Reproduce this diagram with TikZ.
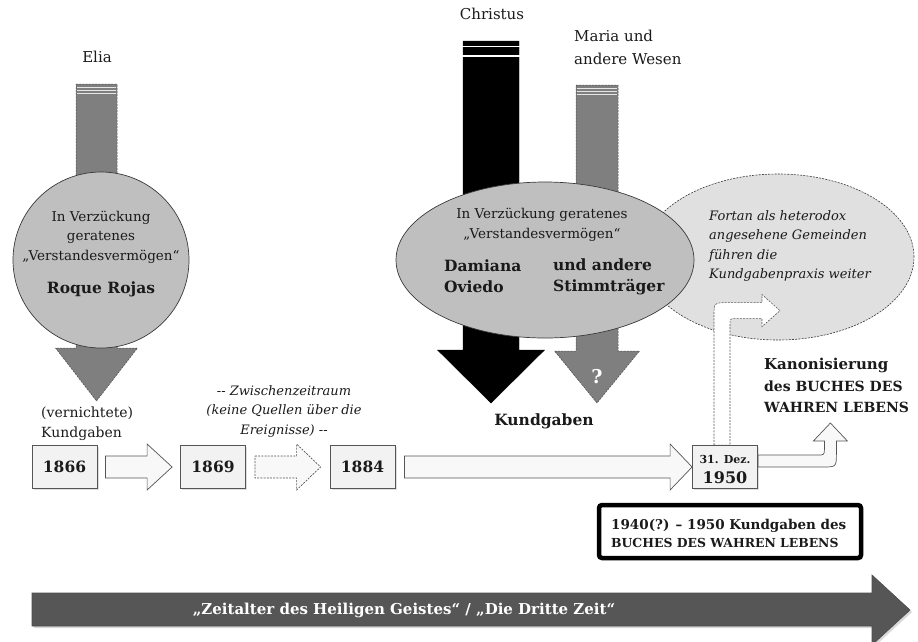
\documentclass[tikz,border=0pt]{standalone}
\usepackage{fontspec}
\setmainfont{DejaVu Serif}
\usetikzlibrary{shapes.geometric,shadows,calc}
\definecolor{txtc}{HTML}{1A1A1A}
\definecolor{boxfill}{HTML}{F2F2F2}
\definecolor{boxline}{HTML}{555555}
\definecolor{arrfill}{HTML}{F8F8F8}
\definecolor{circfill}{HTML}{BFBFBF}
\definecolor{circline}{HTML}{3A3A3A}
\definecolor{dashfill}{HTML}{E0E0E0}
\definecolor{arrgray}{HTML}{7F7F7F}
\definecolor{erafill}{HTML}{565656}
\pgfdeclarelayer{back}
\pgfdeclarelayer{mid}
\pgfsetlayers{back,mid,main}
\newcommand\downarr[7][]{\draw[#1] ({#2-#3},#5) -- ({#2+#3},#5) -- ({#2+#3},#6) -- ({#2+#4},#6) -- (#2,#7) -- ({#2-#4},#6) -- ({#2-#3},#6) -- cycle;}
\newcommand\harr[4][]{\draw[#1] let \p1=(#2), \p2=(#3) in
  (\x1,\y1+11pt) -- (\x2-#4pt,\y1+11pt) -- (\x2-#4pt,\y1+23pt) -- (\x2,\y1) -- (\x2-#4pt,\y1-23pt) -- (\x2-#4pt,\y1-11pt) -- (\x1,\y1-11pt) -- cycle;}
\tikzset{
  txt/.style={inner sep=0pt, text=txtc},
  norm/.style={txt, font=\fontsize{13.5}{19.5}\selectfont},
  big/.style={txt, font=\fontsize{15}{23}\selectfont},
  bld/.style={txt, font=\bfseries\fontsize{15.5}{21}\selectfont},
  itl/.style={txt, font=\itshape\fontsize{13}{19.5}\selectfont},
  yearbox/.style={draw=boxline, fill=boxfill, minimum width=65pt, minimum height=43pt, inner sep=0pt,
    line width=0.8pt, text=txtc, font=\bfseries\fontsize{15.5}{18}\selectfont,
    drop shadow={shadow xshift=1.5pt, shadow yshift=-1.5pt, opacity=0.25}},
  blockarr/.style={draw=boxline, fill=arrfill, line width=0.7pt},
  finedash/.style={dash pattern=on 2pt off 1.2pt},
  grayarr/.style={fill=arrgray, draw=arrgray!60!black, line width=0.5pt, finedash},
  blackarr/.style={fill=black, draw=black},
  circ/.style={circle, minimum size=176pt, inner sep=0pt, fill=circfill, draw=circline, line width=0.7pt},
  ell/.style={ellipse, minimum width=298pt, minimum height=156pt, inner sep=0pt, fill=circfill, draw=circline, line width=0.7pt},
  dashell/.style={ellipse, minimum width=272pt, minimum height=166pt, inner sep=0pt, fill=dashfill, draw=circline, line width=0.6pt, finedash},
}
\begin{document}
\begin{tikzpicture}[x=1pt,y=-1pt]
\useasboundingbox (0,0) rectangle (918,641);

\begin{pgfonlayer}{back}
  \node[dashell] (fort) at (778,257) {};
  % Elia arrow
  \downarr[grayarr]{96.5}{20.5}{41}{84}{348}{401}
  \foreach \yy in {87,90,93} \draw[white, line width=0.6pt, opacity=0.8] (77,\yy) -- (116,\yy);
  % Christus arrow
  \downarr[blackarr]{491}{28}{53.5}{41}{350}{403}
  \fill[white] (462,45.5) rectangle (520,47);
  \fill[white] (462,55) rectangle (520,56.5);
  % Maria arrow
  \downarr[grayarr]{597}{21}{42.5}{85}{351}{403}
  \foreach \yy in {88,91,94} \draw[white, line width=0.6pt, opacity=0.8] (577,\yy) -- (617,\yy);
  % circle and ellipse
  \node[circ] (rr) at (101,260) {};
  \node[ell] (dam) at (545,260) {};
  % era arrow
  \draw[fill=erafill, draw=black!70, line width=0.6pt,
        drop shadow={shadow xshift=2pt, shadow yshift=-2pt, opacity=0.3}]
    (32,593) -- (872,593) -- (872,575) -- (910,610) -- (872,645) -- (872,626) -- (32,626) -- cycle;
\end{pgfonlayer}

% year boxes
\node[yearbox] (y1866) at (64.5,467) {1866};
\node[yearbox] (y1869) at (213,467) {1869};
\node[yearbox] (y1884) at (362.5,467) {1884};
\node[yearbox] (y1950) at (725,467) {};
\node[txt, font=\bfseries\fontsize{11}{13}\selectfont] (dez) at (725,459) {31. Dez.};
\node[txt, font=\bfseries\fontsize{16}{18}\selectfont] (y50) at (725,478) {1950};

\begin{pgfonlayer}{mid}
  \harr[blockarr]{$(y1866.east)+(8,0)$}{$(y1869.west)+(-8,0)$}{25}
  \harr[blockarr, finedash]{$(y1869.east)+(9,0)$}{$(y1884.west)+(-9,0)$}{24}
  \harr[blockarr]{$(y1884.east)+(9,0)$}{y1950.west}{22}
  % bent arrow to Kanonisierung
  \begin{scope}[shift={(y1950.east)}]
    \draw[blockarr] (0,-12) -- (59.5,-12) .. controls (66.5,-12) .. (66.5,-19) -- (66.5,-26) -- (55.5,-26)
      -- (72.5,-44) -- (89.5,-26) -- (78.5,-26) -- (78.5,-14) .. controls (78.5,0) .. (64.5,0) -- (0,0) -- cycle;
  \end{scope}
  % dashed bent arrow into the dashed ellipse
  \begin{scope}[shift={(y1950.north)}]
    \draw[blockarr, fill=white, line width=0.6pt, finedash] (-11,0) -- (-11,-128.5) .. controls (-11,-142.5) .. (3,-142.5)
      -- (37,-142.5) -- (37,-150.5) -- (55,-134.5) -- (37,-118.5) -- (37,-126.5) -- (11,-126.5)
      .. controls (5,-126.5) .. (5,-120.5) -- (5,0) -- cycle;
  \end{scope}
\end{pgfonlayer}

% texts
\node[big] (elia) at (97,57) {Elia};
\node[big] (christus) at (492,14) {Christus};
\node[big, anchor=west, align=left] (maria) at (574,47.5) {Maria und\\andere Wesen};

\node[norm, align=center] (rrt) at (101,237) {In Verzückung\\geratenes\\„Verstandesvermögen“};
\node[bld] (rrn) at (101,289) {Roque Rojas};

\node[norm, align=center] (damt) at (542,225) {In Verzückung geratenes\\„Verstandesvermögen“};
\node[bld, anchor=west, align=left] (damn) at (444,276.5) {Damiana\\Oviedo};
\node[bld, anchor=west, align=left] (stimm) at (553,276.5) {und andere\\Stimmträger};
\node[txt, text=white, font=\bfseries\fontsize{19}{20}\selectfont] (qm) at (597,377) {?};

\node[itl, anchor=west, align=left] (fortt) at (709,246) {Fortan als heterodox\\angesehene Gemeinden\\führen die\\Kundgabenpraxis weiter};

\node[bld] (kund) at (544,421) {Kundgaben};
\node[txt, font=\fontsize{14}{20}\selectfont, anchor=west, align=left] (vern) at (41,424) {(vernichtete)\\Kundgaben};
\node[itl, align=center] (zwi) at (284,411) {-{}- Zwischenzeitraum\\(keine Quellen über die\\Ereignisse) -{}-};

\node[txt, anchor=west, align=left, font=\bfseries\fontsize{14}{21.5}\selectfont] (kan) at (764,385.5)
  {{\fontsize{15}{21.5}\selectfont Kanonisierung}\\des BUCHES DES\\WAHREN LEBENS};

\node[draw=black, line width=4.5pt, rounded corners=3pt, fill=white, minimum width=262pt, minimum height=53pt,
      drop shadow={shadow xshift=2pt, shadow yshift=-2pt, opacity=0.3}] (kbox) at (730,531.5) {};
\node[txt, anchor=west, align=left, font=\bfseries\fontsize{13.5}{18}\selectfont] (kboxt) at (611,533)
  {1940(?) – 1950 Kundgaben des\\{\fontsize{12.4}{18}\selectfont BUCHES DES WAHREN LEBENS}};

\node[txt, text=white, font=\bfseries\fontsize{15}{17}\selectfont] (era) at (404,610) {„Zeitalter des Heiligen Geistes“ / „Die Dritte Zeit“};
\end{tikzpicture}
\end{document}
